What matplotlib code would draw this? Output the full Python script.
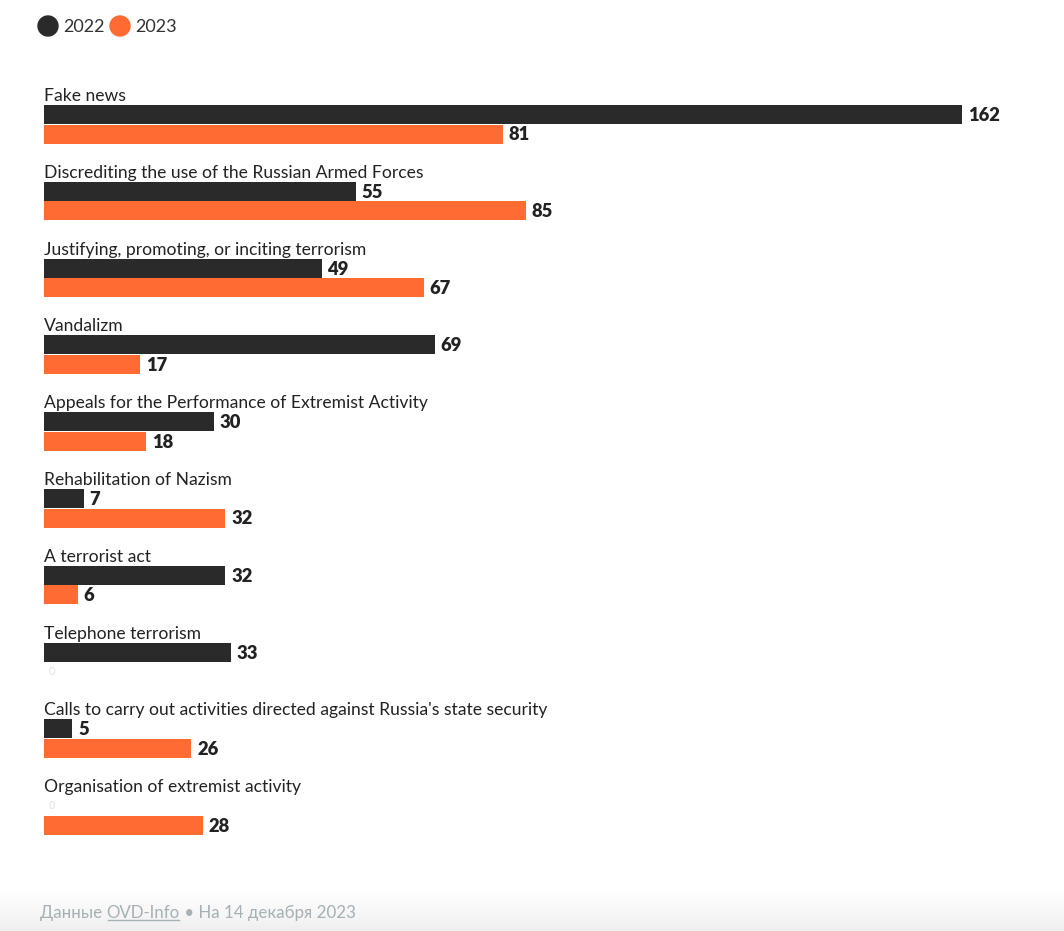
import numpy as np
import matplotlib
matplotlib.use('Agg')
import matplotlib.pyplot as plt
from matplotlib.patches import Circle

plt.rcParams['font.family'] = ['Lato', 'DejaVu Sans']

categories = ['Fake news',
              'Discrediting the use of the Russian Armed Forces',
              'Justifying, promoting, or inciting terrorism',
              'Vandalizm',
              'Appeals for the Performance of Extremist Activity',
              'Rehabilitation of Nazism',
              'A terrorist act',
              'Telephone terrorism',
              "Calls to carry out activities directed against Russia's state security",
              'Organisation of extremist activity']
v2022 = [162, 55, 49, 69, 30, 7, 32, 33, 5, 0]
v2023 = [81, 85, 67, 17, 18, 32, 6, 0, 26, 28]
years = ['2022', '2023']
source = 'OVD-Info'
date_note = 'На 14 декабря 2023'

c_dark = '#2a2a2a'
c_orange = '#ff6b33'

W, H = 1064, 931
fig = plt.figure(figsize=(W/100, H/100), dpi=100)
ax = fig.add_axes([0, 0, 1, 1])
scale = 5.667  # px per unit
x0 = 44
ax.set_xlim(-x0/scale, (W - x0)/scale)
ax.set_ylim(H, 0)
ax.axis('off')

step = 76.8
top = 105
bh = 19
for i, cat in enumerate(categories):
    y1 = top + i*step + bh/2
    y2 = y1 + bh + 0.5
    ax.text(0, y1 - bh/2 - 1, cat, fontsize=12.6, color='#222222', va='bottom', ha='left')
    for y, v, c in [(y1, v2022[i], c_dark), (y2, v2023[i], c_orange)]:
        if v > 0:
            ax.barh(y, v, height=bh, left=0, color=c)
            ax.text(v + 1, y + 1, str(v), fontsize=13.2, fontweight='heavy',
                    color='#222222', va='center', ha='left')
        else:
            ax.text(0.8, y, str(v), fontsize=8, color='#e2e2e2', va='center', ha='left')

# legend
for cx, lab, c in [(48, years[0], c_dark), (120, years[1], c_orange)]:
    fig.patches.append(Circle((cx, H - 26), 10, transform=None, color=c))
    fig.text((cx + 15)/W, 1 - 27/H, lab, fontsize=13, color='#333333', va='center', ha='left')

# footer band
grad = np.linspace(1, 0.94, 40).reshape(-1, 1)
ax.imshow(np.dstack([grad, grad, grad]), extent=(-x0/scale, (W - x0)/scale, H, H - 40),
          aspect='auto', zorder=0)
ax.set_xlim(-x0/scale, (W - x0)/scale)
ax.set_ylim(H, 0)

fc = '#a5b1b5'
renderer = fig.canvas.get_renderer()
xpos = 40
fy = 1 - 913/H
for part, ul in [('Данные ', False), (source, True), (' • ' + date_note, False)]:
    t = fig.text(xpos/W, fy, part, fontsize=12.2, color=fc, va='center', ha='left')
    bb = t.get_window_extent(renderer)
    if ul:
        fig.add_artist(plt.Line2D([(bb.x0 + 1)/W, (bb.x1 - 1)/W], [(bb.y0 + 1)/H]*2, color=fc, lw=1))
    xpos += bb.width

fig.savefig('out.png', dpi=100)
